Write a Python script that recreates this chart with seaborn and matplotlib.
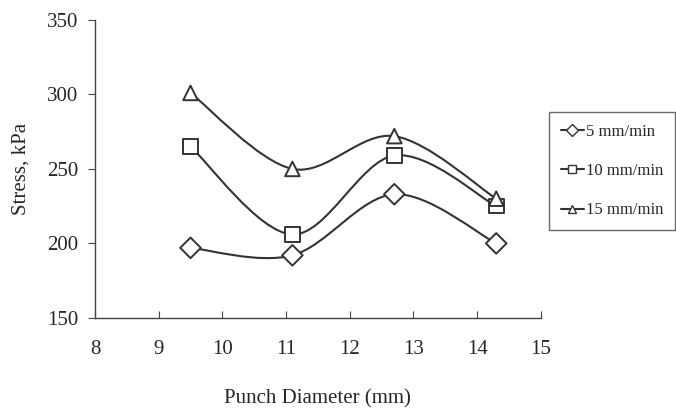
import numpy as np
import pandas as pd
import seaborn as sns
import matplotlib.pyplot as plt
from matplotlib.path import Path
from matplotlib.patches import PathPatch
from matplotlib.lines import Line2D

# data
diameter = [9.5, 11.1, 12.7, 14.3]
stress_5 = [197, 192, 233, 200]
stress_10 = [265, 206, 259, 225]
stress_15 = [301, 250, 272, 230]
speeds = ["5 mm/min", "10 mm/min", "15 mm/min"]
markers = {"5 mm/min": "D", "10 mm/min": "s", "15 mm/min": "^"}
line_col = "#333333"


def smooth_path(x, y):
    """Catmull-Rom style bezier through the points (like a spreadsheet smoothed line)."""
    pts = np.column_stack([x, y]).astype(float)
    n = len(pts)
    verts = [pts[0]]
    codes = [Path.MOVETO]
    for i in range(n - 1):
        p0 = pts[i - 1] if i > 0 else pts[i]
        p1, p2 = pts[i], pts[i + 1]
        p3 = pts[i + 2] if i + 2 < n else pts[i + 1]
        c1 = p1 + (p2 - p0) / 6.0
        c2 = p2 - (p3 - p1) / 6.0
        verts += [c1, c2, p2]
        codes += [Path.CURVE4] * 3
    return Path(verts, codes)


df = pd.DataFrame({
    "Punch Diameter (mm)": diameter * 3,
    "Stress, kPa": stress_5 + stress_10 + stress_15,
    "Speed": sum([[s] * len(diameter) for s in speeds], []),
})

sns.set_style("ticks")
plt.rcParams["font.family"] = ["Liberation Serif", "DejaVu Serif"]

fig = plt.figure(figsize=(6.76, 4.15), dpi=100)
ax = fig.add_axes([0.1405, 0.234, 0.6595, 0.718])

for s in speeds:
    sub = df[df["Speed"] == s]
    patch = PathPatch(smooth_path(sub["Punch Diameter (mm)"], sub["Stress, kPa"]),
                      facecolor="none", edgecolor=line_col, lw=1.5, zorder=2)
    ax.add_patch(patch)

sns.scatterplot(data=df, x="Punch Diameter (mm)", y="Stress, kPa", style="Speed",
                markers=markers, s=110, facecolor="white", edgecolor=line_col,
                linewidth=1.4, legend=False, ax=ax, zorder=3)

ax.set_xlim(8, 15)
ax.set_ylim(150, 350)
ax.set_xticks(range(8, 16))
ax.set_yticks(range(150, 351, 50))
sns.despine(ax=ax)
for sp in ("left", "bottom"):
    ax.spines[sp].set_color("#444444")
    ax.spines[sp].set_linewidth(1.0)
ax.tick_params(axis="x", direction="in", length=5, labelsize=15, pad=16, color="#444444")
ax.tick_params(axis="y", direction="out", length=5, labelsize=15, pad=7, color="#444444")
ax.set_xlabel("Punch Diameter (mm)", fontsize=15, labelpad=22)
ax.set_ylabel("Stress, kPa", fontsize=15, labelpad=12)

handles = [Line2D([], [], color=line_col, lw=1.5, marker=markers[s], markersize=6,
                  markerfacecolor="white", markeredgecolor=line_col) for s in speeds]
leg = fig.legend(handles, speeds, loc="upper left", bbox_to_anchor=(0.812, 0.73),
                 frameon=True, fancybox=False, fontsize=12, handlelength=1.4,
                 handletextpad=0.1, labelspacing=1.4, borderpad=0.7, borderaxespad=0)
leg.get_frame().set_edgecolor("#444444")
leg.get_frame().set_linewidth(1.0)

fig.savefig("out.png", dpi=100)
